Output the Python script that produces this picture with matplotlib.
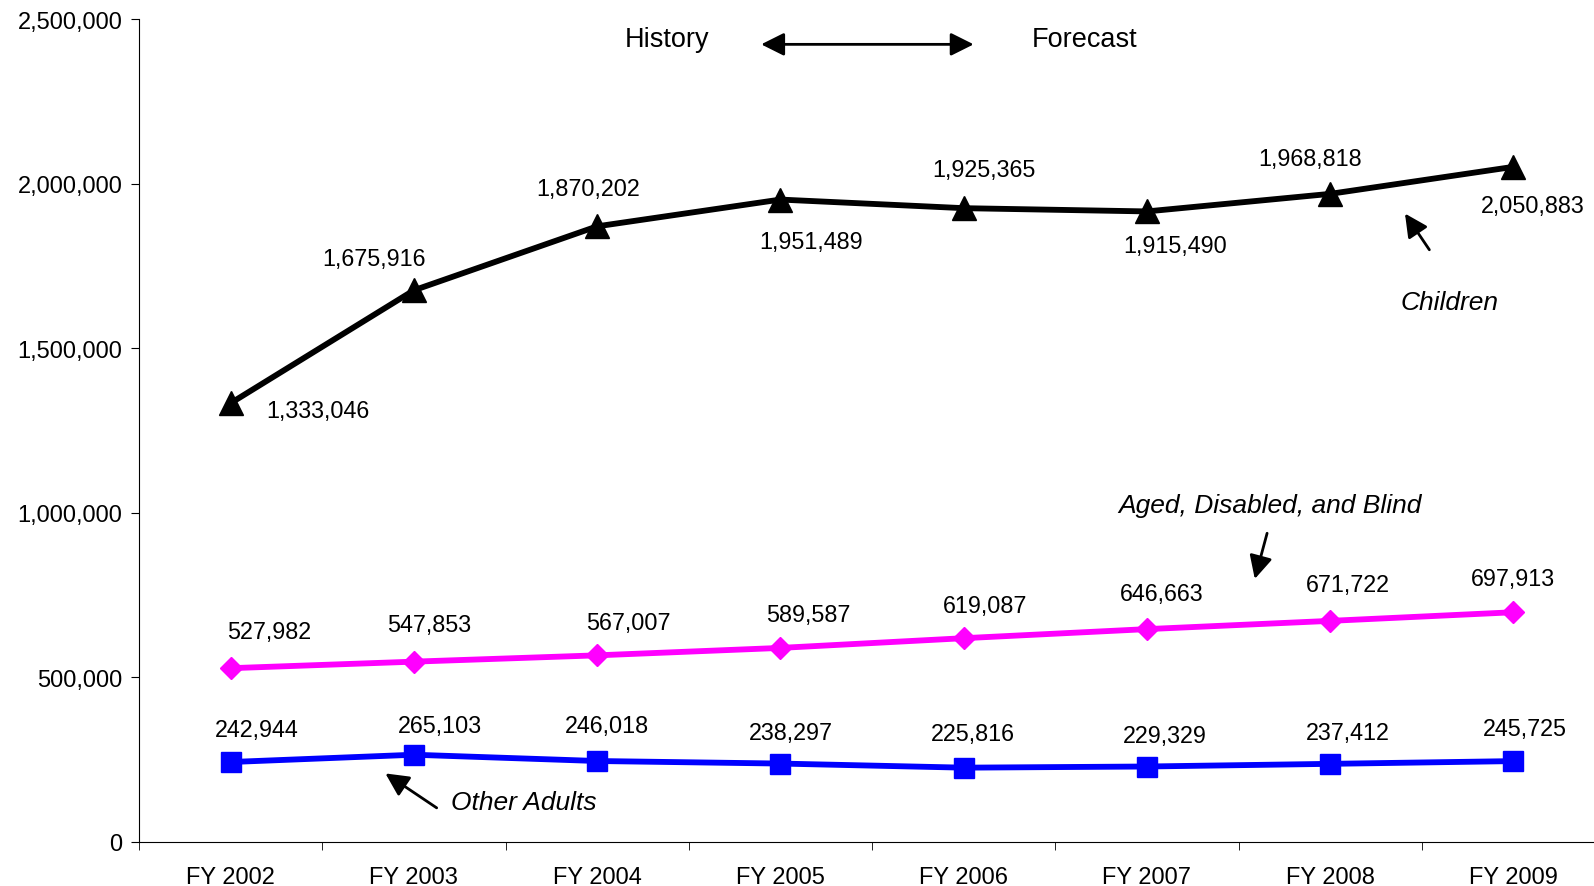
import matplotlib.pyplot as plt
from matplotlib.ticker import FuncFormatter, FixedLocator

plt.rcParams['font.family'] = ['Liberation Sans', 'DejaVu Sans']

# data
years = ['FY 2002', 'FY 2003', 'FY 2004', 'FY 2005', 'FY 2006', 'FY 2007', 'FY 2008', 'FY 2009']
children = [1333046, 1675916, 1870202, 1951489, 1925365, 1915490, 1968818, 2050883]
aged_disabled_blind = [527982, 547853, 567007, 589587, 619087, 646663, 671722, 697913]
other_adults = [242944, 265103, 246018, 238297, 225816, 229329, 237412, 245725]

# label offsets in pixels (dx right, dy up)
children_off = [(87, -7), (-40, 32), (-9, 38), (31, -42), (20, 39), (28, -34), (-20, 35), (19, -39)]
adb_off = [(39, 37), (15, 37), (31, 33), (28, 33), (21, 33), (15, 36), (18, 36), (0, 34)]
other_off = [(26, 33), (26, 29), (10, 36), (10, 31), (9, 34), (18, 31), (18, 31), (11, 33)]

fig = plt.figure(figsize=(15.94, 8.87), dpi=100)
# axis runs off the right edge like the original
ax = fig.add_axes([139 / 1594, 1 - 843 / 887, 1466 / 1594, (843 - 20) / 887])

x = list(range(len(years)))
ax.plot(x, children, color='black', lw=4.2, marker='^', ms=17, zorder=3)
ax.plot(x, aged_disabled_blind, color='#FF00FF', lw=4.2, marker='D', ms=11, zorder=3)
ax.plot(x, other_adults, color='#0000FF', lw=4.2, marker='s', ms=14, zorder=3)

fs = 16.8
for vals, offs in [(children, children_off), (aged_disabled_blind, adb_off), (other_adults, other_off)]:
    for i, (v, (dx, dy)) in enumerate(zip(vals, offs)):
        ax.annotate(f'{v:,}', (i, v), xytext=(dx * 0.72, dy * 0.72), textcoords='offset points',
                    ha='center', va='center', fontsize=fs)

ax.set_xlim(-0.5, 7.5)
ax.set_ylim(0, 2500000)
ax.yaxis.set_major_locator(FixedLocator([0, 500000, 1000000, 1500000, 2000000, 2500000]))
ax.yaxis.set_major_formatter(FuncFormatter(lambda v, p: f'{int(v):,}'))
ax.set_xticks(x)
ax.set_xticklabels(years, fontsize=17)
ax.set_xticks([i + 0.5 for i in range(-1, 8)], minor=True)
ax.tick_params(axis='x', which='major', length=0, pad=17)
ax.tick_params(axis='x', which='minor', length=6, direction='out')
ax.tick_params(axis='y', labelsize=17, length=6, direction='out', pad=6)
for s in ['top', 'right']:
    ax.spines[s].set_visible(False)

arrow_kw = dict(color='black', lw=2, mutation_scale=28)

# history / forecast
ax.text(2.38, 2438000, 'History', fontsize=19.5, ha='center', va='center')
ax.text(4.66, 2438000, 'Forecast', fontsize=19.5, ha='center', va='center')
ax.annotate('', xy=(2.88, 2423000), xytext=(4.07, 2423000),
            arrowprops=dict(arrowstyle='<|-|>,head_width=0.25,head_length=0.5', **arrow_kw))

# series labels
ax.text(6.65, 1641000, 'Children', fontsize=19, style='italic', ha='center', va='center')
ax.annotate('', xy=(6.40, 1916000), xytext=(6.55, 1792000),
            arrowprops=dict(arrowstyle='-|>,head_width=0.25,head_length=0.5', **arrow_kw))
ax.text(5.67, 1023000, 'Aged, Disabled, and Blind', fontsize=19, style='italic', ha='center', va='center')
ax.annotate('', xy=(5.585, 791000), xytext=(5.66, 946000),
            arrowprops=dict(arrowstyle='-|>,head_width=0.25,head_length=0.5', **arrow_kw))
ax.text(1.60, 120500, 'Other Adults', fontsize=19, style='italic', ha='center', va='center')
ax.annotate('', xy=(0.832, 213000), xytext=(1.137, 99000),
            arrowprops=dict(arrowstyle='-|>,head_width=0.25,head_length=0.5', **arrow_kw))

fig.savefig('out.png', dpi=100)
